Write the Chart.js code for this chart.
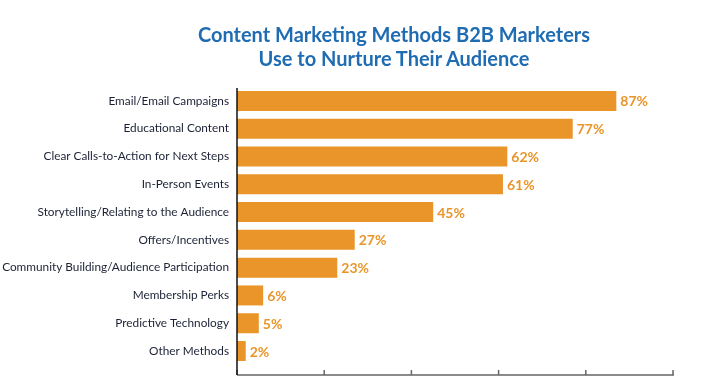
<!DOCTYPE html>
<html lang="en">
<head>
    <meta charset="UTF-8">
    <title>Content Marketing Methods</title>
    <script src="https://cdn.jsdelivr.net/npm/chart.js@4.4.1/dist/chart.umd.min.js"></script>
    <style>
        body { margin: 0; background: #fff; }
        .wrap { position: relative; width: 720px; height: 380px; }
        .title {
            position: absolute; left: 194px; width: 400px; top: 22px;
            text-align: center; font-family: Lato, sans-serif; font-weight: 700;
            font-size: 20px; line-height: 24px; color: #1f6cb3;
        }
    </style>
</head>
<body>
    <div class="wrap">
        <div class="title">Content Marketing Methods B2B Marketers<br>Use to Nurture Their Audience</div>
        <canvas id="chart" width="720" height="380"></canvas>
    </div>

    <script>
        const categories = [
            'Email/Email Campaigns',
            'Educational Content',
            'Clear Calls-to-Action for Next Steps',
            'In-Person Events',
            'Storytelling/Relating to the Audience',
            'Offers/Incentives',
            'Community Building/Audience Participation',
            'Membership Perks',
            'Predictive Technology',
            'Other Methods'
        ];
        const values = [87, 77, 62, 61, 45, 27, 23, 6, 5, 2];
        const xTicks = [0, 20, 40, 60, 80, 100];

        const orange = '#e9952a';

        // value labels at the end of each bar
        const valueLabels = {
            id: 'valueLabels',
            afterDatasetsDraw(chart) {
                const ctx = chart.ctx;
                const meta = chart.getDatasetMeta(0);
                ctx.save();
                ctx.font = 'bold 14px Lato, sans-serif';
                ctx.fillStyle = orange;
                ctx.textBaseline = 'middle';
                meta.data.forEach((bar, i) => {
                    ctx.fillText(values[i] + '%', bar.x + 4, bar.y + 1);
                });
                ctx.restore();
            }
        };

        // axis lines with inward tick marks, bottom line sits a bit under the last bar
        const axisLines = {
            id: 'axisLines',
            afterDraw(chart) {
                const ctx = chart.ctx;
                const x = chart.scales.x;
                const area = chart.chartArea;
                const bottom = area.bottom + 10;
                ctx.save();
                ctx.strokeStyle = '#666';
                ctx.lineWidth = 1.5;
                ctx.beginPath();
                ctx.moveTo(area.left, bottom);
                ctx.lineTo(x.getPixelForValue(100) + 1, bottom);
                xTicks.forEach(t => {
                    const px = x.getPixelForValue(t);
                    ctx.moveTo(px, bottom);
                    ctx.lineTo(px, bottom - 5);
                });
                ctx.stroke();
                ctx.strokeStyle = '#111';
                ctx.beginPath();
                ctx.moveTo(area.left, area.top + 1);
                ctx.lineTo(area.left, bottom);
                ctx.stroke();
                ctx.restore();
            }
        };

        new Chart(document.getElementById('chart'), {
            type: 'bar',
            data: {
                labels: categories,
                datasets: [{
                    data: values,
                    backgroundColor: orange,
                    barPercentage: 0.72,
                    categoryPercentage: 1
                }]
            },
            options: {
                indexAxis: 'y',
                responsive: false,
                animation: false,
                layout: { padding: { top: 87, bottom: 13, right: 47, left: 0 } },
                plugins: {
                    legend: { display: false },
                    tooltip: { enabled: false }
                },
                scales: {
                    x: { display: false, min: 0, max: 100 },
                    y: {
                        grid: { display: false, drawTicks: false },
                        border: { display: false },
                        ticks: {
                            padding: 8,
                            color: '#1c2235',
                            font: { family: 'Lato, sans-serif', size: 11.8 }
                        },
                        afterFit(scale) { scale.width = 237; }
                    }
                }
            },
            plugins: [valueLabels, axisLines]
        });
    </script>
</body>
</html>
